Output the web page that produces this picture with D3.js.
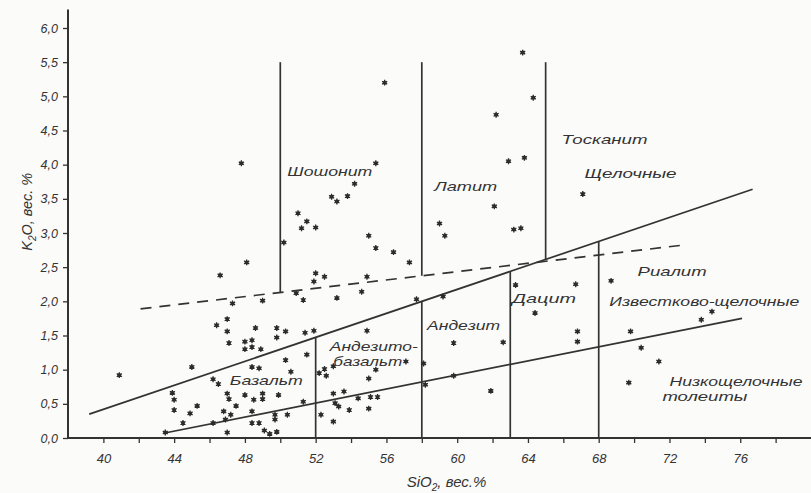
<!DOCTYPE html>
<html>
<head>
<meta charset="utf-8">
<script src="https://cdn.jsdelivr.net/npm/d3@7"></script>
<style>
  html, body { margin: 0; padding: 0; background: #fbfbfa; }
  svg { display: block; }
  text { font-family: "Liberation Sans", Arial, sans-serif; font-style: italic; fill: #333; }
</style>
</head>
<body>
<svg id="chart" width="811" height="493"></svg>
<script>
// Axis ticks
const sio2Ticks = [40, 42, 44, 46, 48, 50, 52, 54, 56, 58, 60, 62, 64, 66, 68, 70, 72, 74, 76, 78];
const sio2Labels = [40, 44, 48, 52, 56, 60, 64, 68, 72, 76];
const k2oTicks = [0, 0.5, 1, 1.5, 2, 2.5, 3, 3.5, 4, 4.5, 5, 5.5, 6];

// Analysed samples: SiO2 and K2O, wt.%
const sio2 = [
  48.1, 46.6, 52.0, 52.5, 51.9, 47.3, 49.0, 50.9, 51.3, 53.2,
  47.0, 46.4, 47.0, 48.6, 49.8, 50.3, 49.8, 51.4, 51.9, 47.1,
  48.0, 48.4, 48.0, 48.4, 48.9, 51.5, 50.3, 45.0, 48.4, 48.8,
  50.6, 40.9, 46.2, 46.5, 52.5, 52.6, 52.2, 43.9, 44.0, 44.0,
  47.0, 47.1, 48.0, 48.5, 49.0, 49.0, 49.9, 47.5, 45.3, 44.9,
  46.8, 47.2, 48.4, 49.7, 50.4, 51.3, 44.5, 46.2, 46.9, 48.4,
  48.8, 49.7, 49.1, 49.4, 49.8, 47.0, 43.5, 53.0, 53.6, 53.1,
  53.3, 53.9, 52.3, 53.0, 54.9, 54.6, 57.7, 59.2, 54.9, 57.1,
  53.0, 55.4, 55.0, 58.1, 59.8, 62.6, 59.8, 58.2, 61.9, 54.4,
  55.1, 55.5, 55.0, 63.3, 66.7, 64.4, 66.8, 66.8, 68.7, 69.8,
  70.4, 71.4, 69.7, 74.4, 73.8, 55.9, 47.8, 55.4, 54.2, 52.9,
  53.2, 53.8, 51.0, 51.5, 51.2, 52.0, 55.0, 55.4, 56.4, 57.3,
  50.2, 59.0, 59.3, 63.7, 64.3, 62.2, 62.9, 63.8, 62.1, 63.2,
  63.6, 67.1
];
const k2o = [
  2.57, 2.38, 2.41, 2.36, 2.29, 1.97, 2.01, 2.12, 2.02, 2.05,
  1.74, 1.65, 1.56, 1.61, 1.61, 1.56, 1.47, 1.54, 1.57, 1.39,
  1.41, 1.43, 1.30, 1.33, 1.30, 1.22, 1.14, 1.04, 1.04, 1.02,
  0.97, 0.92, 0.86, 0.79, 1.01, 0.91, 0.95, 0.66, 0.56, 0.41,
  0.65, 0.57, 0.63, 0.56, 0.65, 0.57, 0.63, 0.47, 0.47, 0.36,
  0.39, 0.34, 0.39, 0.34, 0.34, 0.53, 0.22, 0.22, 0.27, 0.22,
  0.22, 0.27, 0.11, 0.06, 0.09, 0.08, 0.08, 0.65, 0.68, 0.51,
  0.46, 0.41, 0.34, 0.24, 2.36, 2.14, 2.03, 2.07, 1.57, 1.12,
  1.05, 1.00, 0.87, 1.09, 1.39, 1.40, 0.91, 0.78, 0.69, 0.58,
  0.60, 0.60, 0.43, 2.24, 2.25, 1.83, 1.56, 1.41, 2.30, 1.56,
  1.32, 1.12, 0.81, 1.85, 1.73, 5.20, 4.02, 4.02, 3.72, 3.53,
  3.46, 3.54, 3.29, 3.17, 3.07, 3.08, 2.96, 2.78, 2.72, 2.57,
  2.86, 3.14, 2.96, 5.64, 4.98, 4.73, 4.05, 4.10, 3.39, 3.05,
  3.07, 3.57
];

// Series boundaries (end points, SiO2 / K2O)
const highKBoundary = [[39.2, 0.35], [76.7, 3.64]];
const lowKBoundary = [[43.4, 0.07], [76.1, 1.75]];
const shoshoniteBoundary = [[42.1, 1.89], [73.0, 2.83]];

// Rock-name dividers (SiO2)
const upperDividers = [50, 58];      // shoshonite series, down to the dashed boundary
const upperDividerTop = 5.5;
const toscaniteDivider = [65];       // down to the high-K boundary
const lowerDividers = [52, 58, 63, 68];

// Field names
const fieldNames = ["Шошонит", "Латит", "Тосканит", "Щелочные", "Риалит",
  "Известково-щелочные", "Низкощелочные", "толеиты", "Базальт",
  "Андезито-", "базальт", "Андезит", "Дацит"];
const fieldSio2 = [50.4, 58.7, 65.9, 67.2, 70.2, 68.6, 72.0, 71.6, 47.15, 52.8, 53.0, 58.3, 63.1];
const fieldK2o = [3.88, 3.67, 4.36, 3.85, 2.42, 1.98, 0.81, 0.59, 0.82, 1.33, 1.11, 1.63, 2.02];
const fieldWidth = [85, 63, 86, 92, 69, 190, 133, 85, 73, 88, 69, 73, 64];

const svg = d3.select("#chart");
const x = d3.scaleLinear().domain([38, 80]).range([68, 811]);
const y = d3.scaleLinear().domain([0, 6]).range([438, 28]);
const ink = "#333";

const lineAt = (seg, s) => {
  const [[x0, y0], [x1, y1]] = seg;
  return y0 + (y1 - y0) * (s - x0) / (x1 - x0);
};

// Axes
const yAxis = d3.axisLeft(y).tickValues(k2oTicks).tickSize(5).tickPadding(5)
  .tickFormat(d => d.toFixed(1).replace(".", ","));
const gy = svg.append("g").attr("transform", `translate(${x(38)},0)`).call(yAxis);
gy.select(".domain").remove();
gy.selectAll("line").attr("stroke", ink).attr("stroke-width", 1.3);
gy.selectAll("text").attr("font-size", 12.5).style("fill", ink);

const xAxis = d3.axisBottom(x).tickValues(sio2Ticks).tickSize(5).tickPadding(11)
  .tickFormat(d => sio2Labels.includes(d) ? d : "");
const gx = svg.append("g").attr("transform", `translate(0,${y(0)})`).call(xAxis);
gx.select(".domain").remove();
gx.selectAll("line").attr("stroke", ink).attr("stroke-width", 1.3);
gx.selectAll("text").attr("font-size", 13).style("fill", ink);

svg.append("line").attr("x1", x(38)).attr("x2", x(38)).attr("y1", y(0)).attr("y2", y(6.27))
  .attr("stroke", ink).attr("stroke-width", 2);
svg.append("line").attr("x1", x(38)).attr("x2", x(80)).attr("y1", y(0)).attr("y2", y(0))
  .attr("stroke", ink).attr("stroke-width", 2);

// Axis titles
svg.append("text")
  .attr("transform", `translate(28,${y(3.31)}) rotate(-90)`)
  .attr("text-anchor", "middle").attr("dominant-baseline", "middle")
  .attr("font-size", 14.5)
  .html('K<tspan baseline-shift="sub" font-size="10">2</tspan>O, вес. %');
svg.append("text")
  .attr("x", x(59.4)).attr("y", 483)
  .attr("text-anchor", "middle").attr("dominant-baseline", "middle")
  .attr("font-size", 15)
  .html('SiO<tspan baseline-shift="sub" font-size="10">2</tspan>, вес.%');

// Boundary lines
const line = d3.line().x(d => x(d[0])).y(d => y(d[1]));
const g = svg.append("g").attr("fill", "none").attr("stroke", ink).attr("stroke-width", 1.7);
g.append("path").attr("d", line(highKBoundary));
g.append("path").attr("d", line(lowKBoundary));
g.append("path").attr("d", line(shoshoniteBoundary)).attr("stroke-dasharray", "11,8");

upperDividers.forEach(s => {
  g.append("path").attr("d", line([[s, upperDividerTop], [s, lineAt(shoshoniteBoundary, s)]]));
});
toscaniteDivider.forEach(s => {
  g.append("path").attr("d", line([[s, upperDividerTop], [s, lineAt(highKBoundary, s)]]));
});
lowerDividers.forEach(s => {
  g.append("path").attr("d", line([[s, lineAt(highKBoundary, s)], [s, 0]]));
});

// Samples
const star = d3.symbol().type(d3.symbolAsterisk).size(24);
svg.append("g").selectAll("g").data(sio2.map((s, i) => [s, k2o[i]])).join("g")
  .attr("transform", d => `translate(${x(d[0])},${y(d[1])})`)
  .call(s => {
    s.append("path").attr("d", star).attr("stroke", "#2c2c2c").attr("stroke-width", 1.3).attr("fill", "none");
    s.append("circle").attr("r", 2).attr("fill", "#2c2c2c");
  });

// Field names
svg.append("g").selectAll("text").data(fieldNames).join("text")
  .attr("x", (d, i) => x(fieldSio2[i]))
  .attr("y", (d, i) => y(fieldK2o[i]))
  .attr("dominant-baseline", "middle")
  .attr("font-size", 13)
  .attr("textLength", (d, i) => fieldWidth[i])
  .attr("lengthAdjust", "spacingAndGlyphs")
  .text(d => d);
</script>
</body>
</html>
